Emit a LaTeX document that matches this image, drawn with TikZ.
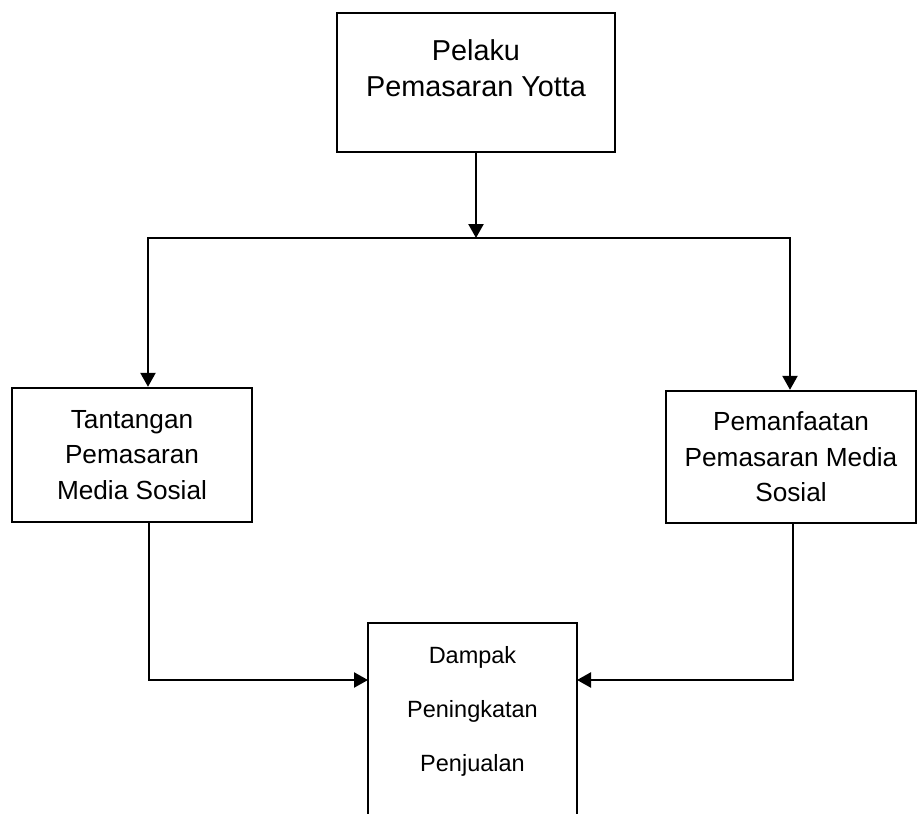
\documentclass[tikz,border=0pt]{standalone}
\usepackage{fontspec}
\setmainfont{Liberation Sans}
\usetikzlibrary{arrows.meta}

\begin{document}
\begin{tikzpicture}[x=0.5pt, y=-0.5pt, line width=1.2pt, >={Triangle[length=7pt,width=7.5pt]}]
  \tikzstyle{kotak}=[draw, rectangle, align=center, inner sep=0pt]
  \tikzstyle{besar}=[font=\fontsize{14.4}{18}\selectfont]
  \tikzstyle{sedang}=[font=\fontsize{13.1}{17.75}\selectfont]
  \tikzstyle{kecil}=[font=\fontsize{11.75}{27}\selectfont]

  \useasboundingbox (0,0) rectangle (917,814);

  \node[kotak, minimum width=139pt, minimum height=69.5pt] (Pelaku) at (476,82.5) {};
  \node[besar, align=center] (PelakuTeks) at (476,68) {Pelaku\\Pemasaran Yotta};

  \node[kotak, sedang, minimum width=120pt, minimum height=67pt] (Tantangan) at (132,455) {Tantangan\\Pemasaran\\Media Sosial};

  \node[kotak, sedang, minimum width=125pt, minimum height=66pt] (Pemanfaatan) at (791,457) {Pemanfaatan\\Pemasaran Media\\Sosial};

  \node[kecil, align=center, minimum width=104.5pt, minimum height=88.5pt, outer sep=0pt] (Dampak) at (472.5,711.5) {Dampak\\Peningkatan\\Penjualan};

  \coordinate (Cabang) at (476,238);
  \coordinate (Kiri) at (148,238);
  \coordinate (Kanan) at (790,238);
  \coordinate (KiriBawah) at (149,680);
  \coordinate (KananBawah) at (793,680);
  \coordinate (Bawah) at (0,814);

  \draw[->] (Pelaku) -- (Cabang);
  \draw[->] (Cabang) -| (Kiri |- Tantangan.north);
  \draw[->] (Cabang) -| (Kanan |- Pemanfaatan.north);

  \draw[->] (KiriBawah |- Tantangan.south) |- (Dampak.west |- KiriBawah);
  \draw[->] (KananBawah |- Pemanfaatan.south) |- (Dampak.east |- KananBawah);

  \draw (Dampak.west |- Bawah) -- (Dampak.north west) -- (Dampak.north east) -- (Dampak.east |- Bawah);

\end{tikzpicture}
\end{document}
